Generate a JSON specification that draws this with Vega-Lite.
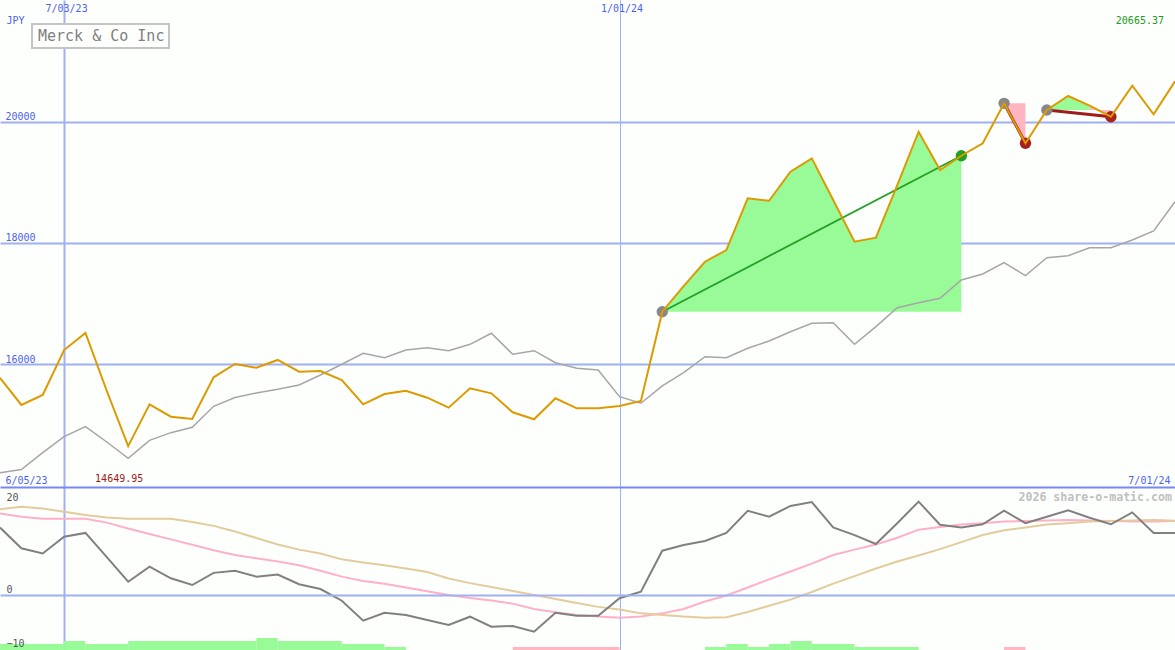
{
  "$schema": "https://vega.github.io/schema/vega-lite/v6.json",
  "background": "#fdfffd",
  "padding": 0,
  "spacing": 0,
  "bounds": "flush",
  "config": {"view": {"stroke": null}, "font": "DejaVu Sans Mono"},
  "datasets": {
    "weekly": [
      {"date":"2023-06-12","price":15774,"ma":14212,"osc":12.5,"s1":15.1,"s2":15.9},
      {"date":"2023-06-19","price":15329,"ma":14265,"osc":8.65,"s1":14.5,"s2":16.35},
      {"date":"2023-06-26","price":15493,"ma":14542,"osc":7.7,"s1":14.1,"s2":16.0},
      {"date":"2023-07-03","price":16235,"ma":14806,"osc":10.8,"s1":14.1,"s2":15.4},
      {"date":"2023-07-10","price":16516,"ma":14971,"osc":11.5,"s1":14.1,"s2":14.8},
      {"date":"2023-07-17","price":15559,"ma":14718,"osc":7.0,"s1":13.4,"s2":14.35},
      {"date":"2023-07-24","price":14649.95,"ma":14449,"osc":2.46,"s1":12.3,"s2":14.1},
      {"date":"2023-07-31","price":15340,"ma":14746,"osc":5.24,"s1":11.3,"s2":14.1},
      {"date":"2023-08-07","price":15135,"ma":14872,"osc":3.1,"s1":10.3,"s2":14.1},
      {"date":"2023-08-14","price":15097,"ma":14961,"osc":1.85,"s1":9.3,"s2":13.5},
      {"date":"2023-08-21","price":15785,"ma":15307,"osc":4.1,"s1":8.3,"s2":12.8},
      {"date":"2023-08-28","price":16004,"ma":15452,"osc":4.5,"s1":7.4,"s2":11.75},
      {"date":"2023-09-04","price":15943,"ma":15526,"osc":3.4,"s1":6.8,"s2":10.55},
      {"date":"2023-09-11","price":16071,"ma":15587,"osc":3.8,"s1":6.2,"s2":9.35},
      {"date":"2023-09-18","price":15878,"ma":15658,"osc":2.0,"s1":5.5,"s2":8.4},
      {"date":"2023-09-25","price":15889,"ma":15823,"osc":1.1,"s1":4.5,"s2":7.7},
      {"date":"2023-10-02","price":15741,"ma":16000,"osc":-1.06,"s1":3.4,"s2":6.6},
      {"date":"2023-10-09","price":15340,"ma":16181,"osc":-4.76,"s1":2.6,"s2":6.0},
      {"date":"2023-10-16","price":15510,"ma":16108,"osc":-3.28,"s1":2.1,"s2":5.5},
      {"date":"2023-10-23","price":15564,"ma":16235,"osc":-3.7,"s1":1.4,"s2":4.9},
      {"date":"2023-10-30","price":15449,"ma":16273,"osc":-4.63,"s1":0.7,"s2":4.25},
      {"date":"2023-11-06","price":15284,"ma":16224,"osc":-5.56,"s1":0.0,"s2":3.05},
      {"date":"2023-11-13","price":15604,"ma":16329,"osc":-4.02,"s1":-0.55,"s2":2.2},
      {"date":"2023-11-20","price":15521,"ma":16511,"osc":-5.87,"s1":-1.0,"s2":1.5},
      {"date":"2023-11-27","price":15208,"ma":16165,"osc":-5.74,"s1":-1.6,"s2":0.75},
      {"date":"2023-12-04","price":15093,"ma":16224,"osc":-6.8,"s1":-2.6,"s2":0.0},
      {"date":"2023-12-11","price":15439,"ma":16026,"osc":-3.28,"s1":-3.2,"s2":-0.75},
      {"date":"2023-12-18","price":15274,"ma":15934,"osc":-3.83,"s1":-3.7,"s2":-1.5},
      {"date":"2023-12-25","price":15274,"ma":15906,"osc":-3.83,"s1":-4.0,"s2":-2.2},
      {"date":"2024-01-01","price":15312,"ma":15465,"osc":-0.6,"s1":-4.2,"s2":-2.7},
      {"date":"2024-01-08","price":15394,"ma":15357,"osc":0.6,"s1":-4.0,"s2":-3.4},
      {"date":"2024-01-15","price":16867,"ma":15642,"osc":8.2,"s1":-3.4,"s2":-3.7},
      {"date":"2024-01-22","price":17290,"ma":15861,"osc":9.26,"s1":-2.6,"s2":-4.0},
      {"date":"2024-01-29","price":17691,"ma":16125,"osc":10.0,"s1":-1.2,"s2":-4.2},
      {"date":"2024-02-05","price":17884,"ma":16108,"osc":11.5,"s1":-0.1,"s2":-4.1},
      {"date":"2024-02-12","price":18737,"ma":16263,"osc":15.6,"s1":1.4,"s2":-3.15},
      {"date":"2024-02-19","price":18697,"ma":16384,"osc":14.5,"s1":2.9,"s2":-2.0},
      {"date":"2024-02-26","price":19176,"ma":16537,"osc":16.5,"s1":4.35,"s2":-0.85},
      {"date":"2024-03-04","price":19396,"ma":16676,"osc":17.2,"s1":5.8,"s2":0.55},
      {"date":"2024-03-11","price":18709,"ma":16686,"osc":12.5,"s1":7.4,"s2":2.1},
      {"date":"2024-03-18","price":18021,"ma":16329,"osc":11.1,"s1":8.4,"s2":3.5},
      {"date":"2024-03-25","price":18087,"ma":16620,"osc":9.44,"s1":9.35,"s2":4.9},
      {"date":"2024-04-01","price":18956,"ma":16933,"osc":13.3,"s1":10.6,"s2":6.2},
      {"date":"2024-04-08","price":19835,"ma":17015,"osc":17.3,"s1":12.1,"s2":7.3},
      {"date":"2024-04-15","price":19204,"ma":17088,"osc":13.0,"s1":12.6,"s2":8.5},
      {"date":"2024-04-22","price":19439,"ma":17390,"osc":12.5,"s1":13.05,"s2":9.8},
      {"date":"2024-04-29","price":19644,"ma":17489,"osc":13.1,"s1":13.3,"s2":11.1},
      {"date":"2024-05-06","price":20303,"ma":17675,"osc":15.6,"s1":13.6,"s2":12.0},
      {"date":"2024-05-13","price":19644,"ma":17461,"osc":13.3,"s1":13.7,"s2":12.5},
      {"date":"2024-05-20","price":20193,"ma":17757,"osc":14.5,"s1":13.8,"s2":13.05},
      {"date":"2024-05-27","price":20424,"ma":17790,"osc":15.7,"s1":13.9,"s2":13.3},
      {"date":"2024-06-03","price":20264,"ma":17922,"osc":14.3,"s1":13.8,"s2":13.6},
      {"date":"2024-06-10","price":20082,"ma":17922,"osc":13.1,"s1":13.7,"s2":13.7},
      {"date":"2024-06-17","price":20594,"ma":18049,"osc":15.3,"s1":13.6,"s2":13.8},
      {"date":"2024-06-24","price":20122,"ma":18198,"osc":11.5,"s1":13.6,"s2":13.9},
      {"date":"2024-07-01","price":20665.37,"ma":18681,"osc":11.5,"s1":13.7,"s2":13.75}
    ],
    "fills": [
      {"seg":"A","kind":"up","date":"2024-01-15","price":16867,"base":16867},
      {"seg":"A","kind":"up","date":"2024-01-22","price":17290,"base":16867},
      {"seg":"A","kind":"up","date":"2024-01-29","price":17691,"base":16867},
      {"seg":"A","kind":"up","date":"2024-02-05","price":17884,"base":16867},
      {"seg":"A","kind":"up","date":"2024-02-12","price":18737,"base":16867},
      {"seg":"A","kind":"up","date":"2024-02-19","price":18697,"base":16867},
      {"seg":"A","kind":"up","date":"2024-02-26","price":19176,"base":16867},
      {"seg":"A","kind":"up","date":"2024-03-04","price":19396,"base":16867},
      {"seg":"A","kind":"up","date":"2024-03-11","price":18709,"base":16867},
      {"seg":"A","kind":"up","date":"2024-03-18","price":18021,"base":16867},
      {"seg":"A","kind":"up","date":"2024-03-25","price":18087,"base":16867},
      {"seg":"A","kind":"up","date":"2024-04-01","price":18956,"base":16867},
      {"seg":"A","kind":"up","date":"2024-04-08","price":19835,"base":16867},
      {"seg":"A","kind":"up","date":"2024-04-15","price":19204,"base":16867},
      {"seg":"A","kind":"up","date":"2024-04-22","price":19439,"base":16867},
      {"seg":"B","kind":"down","date":"2024-05-06","price":20303,"base":20303},
      {"seg":"B","kind":"down","date":"2024-05-13","price":19644,"base":20303},
      {"seg":"C","kind":"up","date":"2024-05-20","price":20193,"base":20193},
      {"seg":"C","kind":"up","date":"2024-05-27","price":20424,"base":20193},
      {"seg":"C","kind":"up","date":"2024-06-03","price":20264,"base":20193},
      {"seg":"D","kind":"down","date":"2024-06-03","price":20264,"base":20193},
      {"seg":"D","kind":"down","date":"2024-06-10","price":20082,"base":20193}
    ],
    "trends": [
      {"seg":"T1","kind":"up","date":"2024-01-15","value":16867},
      {"seg":"T1","kind":"up","date":"2024-04-22","value":19439},
      {"seg":"T2","kind":"down","date":"2024-05-06","value":20303},
      {"seg":"T2","kind":"down","date":"2024-05-13","value":19644},
      {"seg":"T3","kind":"down","date":"2024-05-20","value":20193},
      {"seg":"T3","kind":"down","date":"2024-06-10","value":20082}
    ],
    "markers": [
      {"date":"2024-01-15","value":16867,"kind":"start"},
      {"date":"2024-04-22","value":19439,"kind":"up"},
      {"date":"2024-05-06","value":20303,"kind":"start"},
      {"date":"2024-05-13","value":19644,"kind":"down"},
      {"date":"2024-05-20","value":20193,"kind":"start"},
      {"date":"2024-06-10","value":20082,"kind":"down"}
    ],
    "bars": [
      {"start":"2023-06-12","end":"2023-07-03","level":2,"kind":"up"},
      {"start":"2023-07-03","end":"2023-07-10","level":3,"kind":"up"},
      {"start":"2023-07-10","end":"2023-07-24","level":2,"kind":"up"},
      {"start":"2023-07-24","end":"2023-09-04","level":3,"kind":"up"},
      {"start":"2023-09-04","end":"2023-09-11","level":4,"kind":"up"},
      {"start":"2023-09-11","end":"2023-10-02","level":3,"kind":"up"},
      {"start":"2023-10-02","end":"2023-10-16","level":2,"kind":"up"},
      {"start":"2023-10-16","end":"2023-10-23","level":1,"kind":"up"},
      {"start":"2023-11-27","end":"2024-01-01","level":1,"kind":"down"},
      {"start":"2024-01-29","end":"2024-02-05","level":1,"kind":"up"},
      {"start":"2024-02-05","end":"2024-02-12","level":2,"kind":"up"},
      {"start":"2024-02-12","end":"2024-02-19","level":1,"kind":"up"},
      {"start":"2024-02-19","end":"2024-02-26","level":2,"kind":"up"},
      {"start":"2024-02-26","end":"2024-03-04","level":3,"kind":"up"},
      {"start":"2024-03-04","end":"2024-03-18","level":2,"kind":"up"},
      {"start":"2024-03-18","end":"2024-04-08","level":1,"kind":"up"},
      {"start":"2024-05-06","end":"2024-05-13","level":1,"kind":"down"}
    ]
  },
  "vconcat": [
    {
      "width": 1175,
      "height": 487,
      "resolve": {"scale": {"color": "independent", "strokeWidth": "independent"}, "axis": {"x": "independent"}},
      "layer": [
        {
          "data": {"name": "fills"},
          "mark": {"type": "area", "opacity": 1, "clip": true},
          "encoding": {
            "x": {"field": "date", "type": "temporal",
              "scale": {"type": "utc", "nice": false, "domain": [{"year":2023,"month":6,"date":12,"utc":true},{"year":2024,"month":7,"date":1,"utc":true}]},
              "axis": {"orient": "top", "values": [{"year":2023,"month":7,"date":3,"utc":true},{"year":2024,"month":1,"date":1,"utc":true}],
                "labelExpr": "utcFormat(datum.value, '%-m/%d/%y')", "labelFlush": false, "labelBaseline": "top", "labelPadding": -3, "labelOffset": 2,
                "labelColor": "#4f5ff0", "labelFont": "DejaVu Sans Mono", "labelFontSize": 10,
                "ticks": false, "domain": false, "grid": true, "gridColor": "#a0b0f0",
                "gridWidth": {"condition": {"test": "datum.index == 0", "value": 2}, "value": 1}, "title": null}},
            "y": {"field": "price", "type": "quantitative",
              "scale": {"domain": [13976, 22007], "nice": false, "zero": false},
              "axis": {"orient": "left", "values": [16000, 18000, 20000], "format": "d", "labelAlign": "left", "labelBaseline": "alphabetic",
                "labelPadding": -5, "labelOffset": -2, "labelColor": "#4f5ff0", "labelFont": "DejaVu Sans Mono", "labelFontSize": 10,
                "ticks": false, "domain": false, "grid": true, "gridColor": "#a0b0f0", "gridWidth": 2,
                "title": "JPY", "titleAngle": 0, "titleAlign": "left", "titleBaseline": "top", "titleX": 6, "titleY": 15,
                "titleColor": "#4f5ff0", "titleFont": "DejaVu Sans Mono", "titleFontSize": 10, "titleFontWeight": "normal"}},
            "y2": {"field": "base"},
            "color": {"field": "kind", "type": "nominal", "scale": {"domain": ["up", "down"], "range": ["#98fb98", "#ffb6c1"]}, "legend": null},
            "detail": {"field": "seg"}
          }
        },
        {
          "data": {"name": "weekly"},
          "mark": {"type": "line", "color": "#a6a6a6", "strokeWidth": 1.5, "clip": true},
          "encoding": {
            "x": {"field": "date", "type": "temporal",
              "scale": {"type": "utc", "nice": false, "domain": [{"year":2023,"month":6,"date":12,"utc":true},{"year":2024,"month":7,"date":1,"utc":true}]},
              "axis": {"orient": "bottom", "values": [{"year":2023,"month":6,"date":12,"utc":true},{"year":2024,"month":7,"date":1,"utc":true}],
                "labelExpr": "datum.index == 0 ? '6/05/23' : utcFormat(datum.value, '%-m/%d/%y')", "labelFlush": true, "labelFlushOffset": -5,
                "labelBaseline": "alphabetic", "labelPadding": -4, "labelColor": "#4f5ff0", "labelFont": "DejaVu Sans Mono", "labelFontSize": 10,
                "ticks": false, "domain": false, "grid": false, "title": null}},
            "y": {"field": "ma", "type": "quantitative", "scale": {"domain": [13976, 22007], "nice": false, "zero": false}}
          }
        },
        {
          "data": {"name": "trends"},
          "mark": {"type": "line", "clip": true},
          "encoding": {
            "x": {"field": "date", "type": "temporal", "scale": {"type": "utc", "nice": false, "domain": [{"year":2023,"month":6,"date":12,"utc":true},{"year":2024,"month":7,"date":1,"utc":true}]}, "axis": null},
            "y": {"field": "value", "type": "quantitative", "scale": {"domain": [13976, 22007], "nice": false, "zero": false}},
            "color": {"field": "kind", "type": "nominal", "scale": {"domain": ["up", "down"], "range": ["#22a022", "#a01c1c"]}, "legend": null},
            "strokeWidth": {"field": "kind", "type": "nominal", "scale": {"domain": ["up", "down"], "range": [1.8, 3]}, "legend": null},
            "detail": {"field": "seg"}
          }
        },
        {
          "data": {"name": "markers"},
          "mark": {"type": "point", "shape": "circle", "filled": true, "opacity": 1, "size": 130, "clip": true},
          "encoding": {
            "x": {"field": "date", "type": "temporal", "scale": {"type": "utc", "nice": false, "domain": [{"year":2023,"month":6,"date":12,"utc":true},{"year":2024,"month":7,"date":1,"utc":true}]}, "axis": null},
            "y": {"field": "value", "type": "quantitative", "scale": {"domain": [13976, 22007], "nice": false, "zero": false}},
            "color": {"field": "kind", "type": "nominal", "scale": {"domain": ["start", "up", "down"], "range": ["#888888", "#22a022", "#a82020"]}, "legend": null}
          }
        },
        {
          "data": {"name": "weekly"},
          "mark": {"type": "line", "strokeWidth": 2, "clip": true},
          "encoding": {
            "x": {"field": "date", "type": "temporal", "scale": {"type": "utc", "nice": false, "domain": [{"year":2023,"month":6,"date":12,"utc":true},{"year":2024,"month":7,"date":1,"utc":true}]}, "axis": null},
            "y": {"field": "price", "type": "quantitative", "scale": {"domain": [13976, 22007], "nice": false, "zero": false}},
            "color": {"datum": "Merck & Co Inc", "type": "nominal", "scale": {"range": ["#dd9a00"]},
              "legend": {"orient": "none", "legendX": 32, "legendY": 24, "title": null, "symbolType": "square", "symbolSize": 1, "symbolStrokeWidth": 0, "symbolOpacity": 0,
                "labelOffset": -13, "labelFont": "DejaVu Sans Mono", "labelFontSize": 15, "labelColor": "#808080",
                "strokeColor": "#c4c4c4", "fillColor": "#fdfffd", "padding": 4,
                "encode": {"legend": {"update": {"strokeWidth": {"value": 2}}}}}}
          }
        },
        {
          "data": {"values": [{"date": "2024-07-01", "price": 20665.37}]},
          "mark": {"type": "text", "align": "right", "baseline": "middle", "dx": -11, "dy": -60, "color": "#229922", "font": "DejaVu Sans Mono", "fontSize": 10},
          "encoding": {
            "x": {"field": "date", "type": "temporal", "scale": {"type": "utc", "nice": false, "domain": [{"year":2023,"month":6,"date":12,"utc":true},{"year":2024,"month":7,"date":1,"utc":true}]}, "axis": null},
            "y": {"field": "price", "type": "quantitative", "scale": {"domain": [13976, 22007], "nice": false, "zero": false}},
            "text": {"field": "price", "type": "quantitative", "format": ".2f"}
          }
        },
        {
          "data": {"values": [{"date": "2023-07-24", "price": 14649.95}]},
          "mark": {"type": "text", "align": "center", "baseline": "middle", "dx": -9, "dy": 33, "color": "#a01818", "font": "DejaVu Sans Mono", "fontSize": 10},
          "encoding": {
            "x": {"field": "date", "type": "temporal", "scale": {"type": "utc", "nice": false, "domain": [{"year":2023,"month":6,"date":12,"utc":true},{"year":2024,"month":7,"date":1,"utc":true}]}, "axis": null},
            "y": {"field": "price", "type": "quantitative", "scale": {"domain": [13976, 22007], "nice": false, "zero": false}},
            "text": {"field": "price", "type": "quantitative", "format": ".2f"}
          }
        }
      ]
    },
    {
      "width": 1175,
      "height": 163,
      "title": {"text": "2026 share-o-matic.com", "anchor": "end", "orient": "top", "offset": -17, "baseline": "top", "dx": -3,
        "color": "#c0c0c0", "font": "DejaVu Sans Mono", "fontSize": 11.6, "fontWeight": "bold"},
      "resolve": {"scale": {"y": "independent"}},
      "layer": [
        {
          "data": {"name": "bars"},
          "mark": {"type": "rect", "clip": true},
          "encoding": {
            "x": {"field": "start", "type": "temporal",
              "scale": {"type": "utc", "nice": false, "domain": [{"year":2023,"month":6,"date":12,"utc":true},{"year":2024,"month":7,"date":1,"utc":true}]},
              "axis": {"orient": "bottom", "values": [{"year":2023,"month":7,"date":3,"utc":true},{"year":2024,"month":1,"date":1,"utc":true}],
                "labels": false, "ticks": false, "domain": false, "grid": true, "gridColor": "#a0b0f0",
                "gridWidth": {"condition": {"test": "datum.index == 0", "value": 2}, "value": 1}, "title": null}},
            "x2": {"field": "end"},
            "y": {"field": "level", "type": "quantitative", "scale": {"domain": [0, 54.33], "nice": false, "zero": true}, "axis": null},
            "y2": {"datum": 0},
            "color": {"field": "kind", "type": "nominal", "scale": {"domain": ["up", "down"], "range": ["#98fb98", "#ffb6c1"]}, "legend": null}
          }
        },
        {
          "data": {"name": "weekly"},
          "layer": [
            {
              "mark": {"type": "line", "color": "#ffb0c8", "strokeWidth": 2, "clip": true},
              "encoding": {
                "x": {"field": "date", "type": "temporal", "scale": {"type": "utc", "nice": false, "domain": [{"year":2023,"month":6,"date":12,"utc":true},{"year":2024,"month":7,"date":1,"utc":true}]}},
                "y": {"field": "s1", "type": "quantitative", "scale": {"domain": [-10.185, 20], "nice": false, "zero": false},
                  "axis": {"orient": "left", "values": [-10, 0, 20], "labelAlign": "left", "labelBaseline": "alphabetic", "labelPadding": -6,
                    "labelOffset": {"condition": {"test": "datum.value == 20", "value": 13}, "value": -3},
                    "labelColor": "#555555", "labelFont": "DejaVu Sans Mono", "labelFontSize": 10, "labelFlush": false,
                    "ticks": false, "domain": false, "grid": true, "zindex": 1,
                    "gridColor": {"condition": {"test": "datum.value == 20", "value": "#7888f0"}, "value": "#a0b0f0"},
                    "gridOpacity": {"condition": {"test": "datum.value == -10", "value": 0}, "value": 1},
                    "gridWidth": 2, "title": null}}
              }
            },
            {
              "mark": {"type": "line", "color": "#e2cc9c", "strokeWidth": 2, "clip": true},
              "encoding": {
                "x": {"field": "date", "type": "temporal", "scale": {"type": "utc", "nice": false, "domain": [{"year":2023,"month":6,"date":12,"utc":true},{"year":2024,"month":7,"date":1,"utc":true}]}},
                "y": {"field": "s2", "type": "quantitative", "scale": {"domain": [-10.185, 20], "nice": false, "zero": false}}
              }
            },
            {
              "mark": {"type": "line", "color": "#808080", "strokeWidth": 2, "clip": true},
              "encoding": {
                "x": {"field": "date", "type": "temporal", "scale": {"type": "utc", "nice": false, "domain": [{"year":2023,"month":6,"date":12,"utc":true},{"year":2024,"month":7,"date":1,"utc":true}]}},
                "y": {"field": "osc", "type": "quantitative", "scale": {"domain": [-10.185, 20], "nice": false, "zero": false}}
              }
            }
          ]
        }
      ]
    }
  ]
}
